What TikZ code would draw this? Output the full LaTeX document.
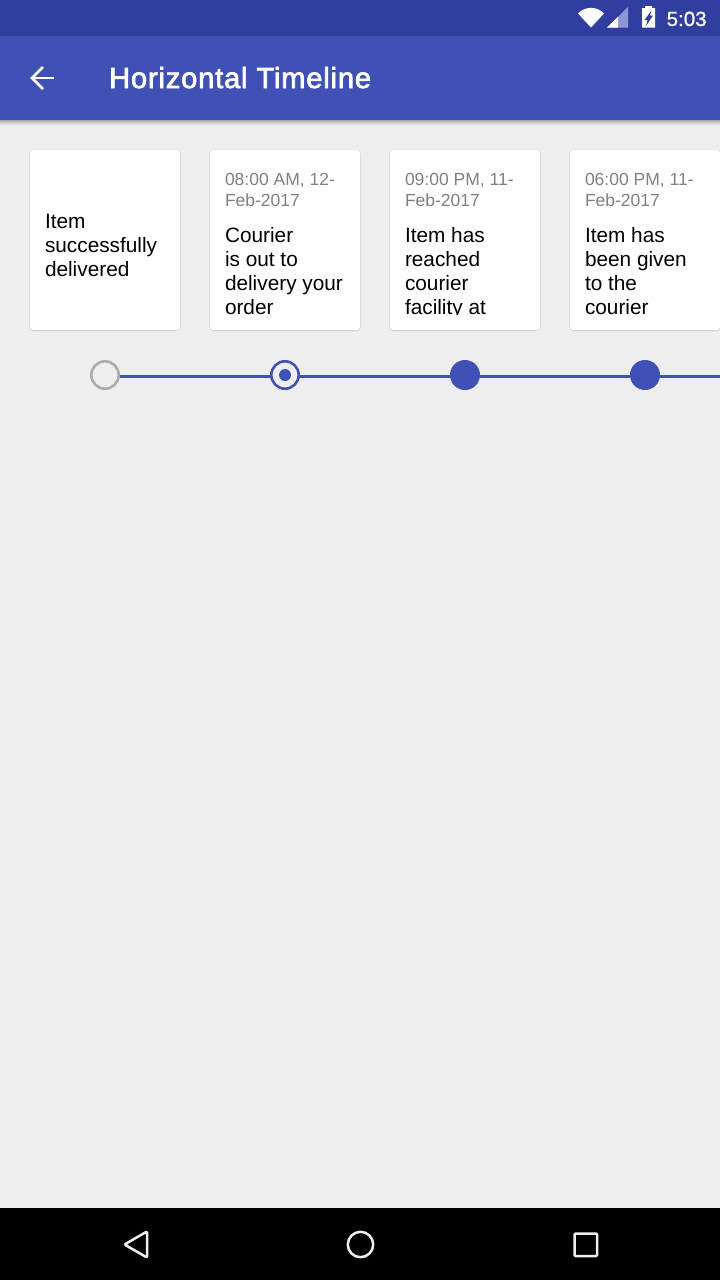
\documentclass[tikz,border=0pt]{standalone}
\usepackage{fontspec}
\setmainfont{Liberation Sans}
\newfontfamily\titlefont[FakeBold=2.5,LetterSpace=3]{Liberation Sans}
\newfontfamily\clockfont[FakeBold=1]{Liberation Sans}
\definecolor{indigoD}{HTML}{303F9F}
\definecolor{indigoM}{HTML}{3F51B5}
\definecolor{pagebg}{HTML}{EEEEEE}
\definecolor{dategray}{HTML}{808080}
\definecolor{ringgray}{HTML}{ABABAB}
\definecolor{navwhite}{HTML}{EEEEEE}
\tikzset{
  x=1pt,y=-1pt,
  cardbox/.style={fill=white,rounded corners=3pt,minimum width=150pt,minimum height=180pt,inner sep=0pt,outer sep=0pt},
  cardshadow/.style={fill=black,opacity=0.05,rounded corners=4pt},
  datetext/.style={anchor=north west,inner sep=0pt,outer sep=0pt,align=left,text=dategray,font=\fontsize{17.5}{21}\selectfont},
  bodytext/.style={anchor=north west,inner sep=0pt,outer sep=0pt,align=left,text=black,font=\fontsize{20.8}{24}\selectfont},
  filleddot/.style={circle,fill=indigoM,minimum size=30pt,inner sep=0pt,outer sep=0pt},
  emptyring/.style={circle,draw=ringgray,line width=2.6pt,fill=pagebg,minimum size=27.4pt,inner sep=0pt,outer sep=0pt},
  activering/.style={circle,draw=indigoM,line width=2.6pt,fill=pagebg,minimum size=27.4pt,inner sep=0pt,outer sep=0pt},
  innerdot/.style={circle,fill=indigoM,minimum size=12pt,inner sep=0pt,outer sep=0pt},
  timeline/.style={draw=indigoM,line width=3pt},
  navicon/.style={draw=navwhite,line width=2.5pt,line join=round,rounded corners=1pt},
}
\newcommand{\shadowfor}[1]{%
  \foreach \d/\e in {0/1.5,0.5/1,1/0.5}{%
    \path[cardshadow] (#1-\d,150-\d+0.5) rectangle (#1+150+\d,330+\e);
  }%
}
\begin{document}
\begin{tikzpicture}
\useasboundingbox (0,0) rectangle (720,1280);
% backgrounds
\fill[pagebg] (0,0) rectangle (720,1280);
\shade[top color=black!30!pagebg,bottom color=pagebg,middle color=black!8!pagebg] (0,120) rectangle (720,126);
\fill[indigoM] (0,36) rectangle (720,120);
\fill[indigoD] (0,0) rectangle (720,36);
\fill[black] (0,1208) rectangle (720,1280);
% status bar
\fill[white] (578,13.5) .. controls (585,6) and (597,6) .. (604,13.5) -- (591,27.5) -- cycle;
\fill[white!40!indigoM] (628,7) -- (628,27.5) -- (607,27.5) -- cycle;
\fill[white] (618,17) -- (618,27.5) -- (607,27.5) -- cycle;
\fill[white] (642,8) -- (645,8) -- (645,6) -- (652,6) -- (652,8) -- (655,8) -- (655,27.5) -- (642,27.5) -- cycle;
\fill[indigoD] (651.5,10.5) -- (644.5,20) -- (647.5,20) -- (646,26) -- (653,15.5) -- (650,15.5) -- cycle;
\node[anchor=base west,inner sep=0pt,text=white,font=\clockfont\fontsize{20.5}{24}\selectfont] (clock) at (666.5,26) {5:03};
% app bar
\draw[white,line width=2.6pt] (32,78) -- (54,78);
\draw[white,line width=2.6pt] (43,67) -- (32,78) -- (43,89);
\node[anchor=base west,inner sep=0pt,text=white,font=\titlefont\fontsize{29}{32}\selectfont] (title) at (109,88) {Horizontal Timeline};
% cards
\shadowfor{30}\shadowfor{210}\shadowfor{390}\shadowfor{570}
\node[cardbox] (card1) at (105,240) {};
\node[cardbox] (card2) at (285,240) {};
\node[cardbox] (card3) at (465,240) {};
\node[cardbox] (card4) at (645,240) {};
\node[bodytext] (body1) at (45,211.2) {\strut Item\\successfully\\delivered};
\node[datetext] (date2) at (225,170.3) {\strut 08:00 AM, 12-\\Feb-2017};
\node[datetext] (date3) at (405,170.3) {\strut 09:00 PM, 11-\\Feb-2017};
\node[datetext] (date4) at (585,170.3) {\strut 06:00 PM, 11-\\Feb-2017};
\begin{scope}
\clip (210,150) rectangle (720,314.5);
\node[bodytext] (body3) at (405,225.2) {\strut Item has\\reached\\courier\\facility at};
\end{scope}
\node[bodytext] (body2) at (225,225.2) {\strut Courier\\is out to\\delivery your\\order};
\node[bodytext] (body4) at (585,225.2) {\strut Item has\\been given\\to the\\courier};
% timeline
\coordinate (tail) at (720,375);
\node[filleddot] (n3) at (465,375) {};
\node[filleddot] (n4) at (645,375) {};
\node[emptyring] (n1) at (105,375) {};
\node[activering] (n2) at (285,375) {};
\node[innerdot] (n2c) at (285,375) {};
\draw[timeline] ([yshift=-1.3pt]n1.east) ++(1,0) -- ([yshift=-1.3pt]n2.west);
\draw[timeline] ([yshift=-1.3pt]n2.east) -- ([yshift=-1.3pt]n3.west);
\draw[timeline] ([yshift=-1.3pt]n3.east) -- ([yshift=-1.3pt]n4.west);
\draw[timeline] ([yshift=-1.3pt]n4.east) -- ([yshift=-1.3pt]tail);
% navigation bar
\draw[navicon] (124.5,1244.5) -- (147,1231.5) -- (147,1257.5) -- cycle;
\draw[navwhite,line width=2.5pt] (360.5,1244.5) circle (12.7);
\draw[navicon] (574.5,1233.5) rectangle (597,1256);
\end{tikzpicture}
\end{document}
